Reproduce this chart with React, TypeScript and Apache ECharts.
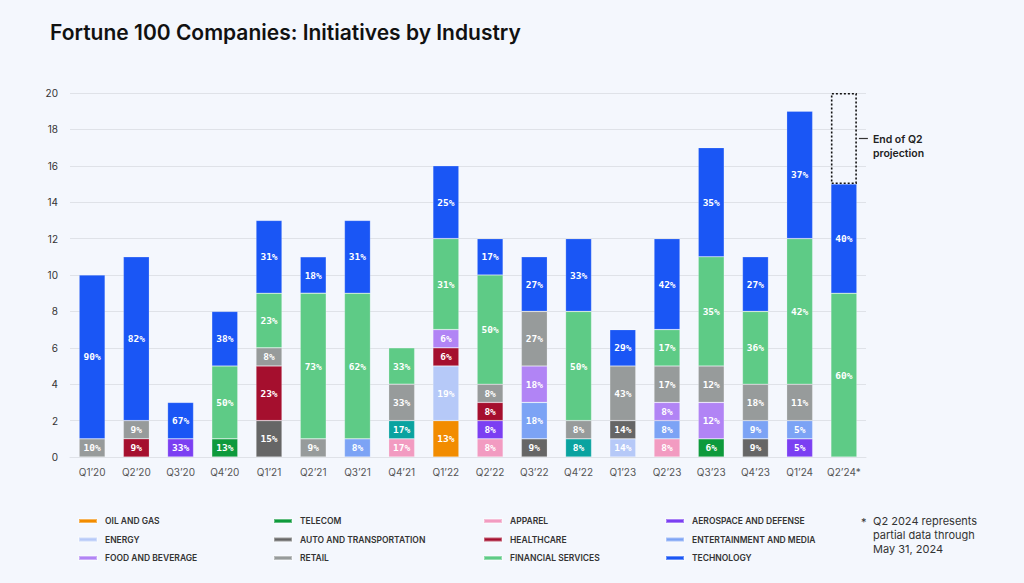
import React, { useEffect, useRef } from "react";
import * as echarts from "echarts";

const categories = ["Q1’20", "Q2’20", "Q3’20", "Q4’20", "Q1’21", "Q2’21", "Q3’21", "Q4’21", "Q1’22", "Q2’22", "Q3’22", "Q4’22", "Q1’23", "Q2’23", "Q3’23", "Q4’23", "Q1’24", "Q2’24*"];

const oilGas =        [0, 0, 0, 0, 0, 0, 0, 0, 2, 0, 0, 0, 0, 0, 0, 0, 0, 0];
const apparel =       [0, 0, 0, 0, 0, 0, 0, 1, 0, 1, 0, 0, 0, 1, 0, 0, 0, 0];
const other =         [0, 0, 0, 0, 0, 0, 0, 1, 0, 0, 0, 1, 0, 0, 0, 0, 0, 0];
const telecom =       [0, 0, 0, 1, 0, 0, 0, 0, 0, 0, 0, 0, 0, 0, 1, 0, 0, 0];
const energy =        [0, 0, 0, 0, 0, 0, 0, 0, 3, 0, 0, 0, 1, 0, 0, 0, 0, 0];
const auto =          [0, 0, 0, 0, 2, 0, 0, 0, 0, 0, 1, 0, 1, 0, 0, 1, 0, 0];
const aerospace =     [0, 0, 1, 0, 0, 0, 0, 0, 0, 1, 0, 0, 0, 0, 0, 0, 1, 0];
const healthcare =    [0, 1, 0, 0, 3, 0, 0, 0, 1, 1, 0, 0, 0, 0, 0, 0, 0, 0];
const entertainment = [0, 0, 0, 0, 0, 0, 1, 0, 0, 0, 2, 0, 0, 1, 0, 1, 1, 0];
const food =          [0, 0, 0, 0, 0, 0, 0, 0, 1, 0, 2, 0, 0, 1, 2, 0, 0, 0];
const retail =        [1, 1, 0, 0, 1, 1, 0, 2, 0, 1, 3, 1, 3, 2, 2, 2, 2, 0];
const financial =     [0, 0, 0, 4, 3, 8, 8, 2, 5, 6, 0, 6, 0, 2, 6, 4, 8, 9];
const technology =    [9, 9, 2, 3, 4, 2, 4, 0, 4, 2, 3, 4, 2, 5, 6, 3, 7, 6];
const projection =    [0, 0, 0, 0, 0, 0, 0, 0, 0, 0, 0, 0, 0, 0, 0, 0, 0, 5];

const yTicks = [0, 2, 4, 6, 8, 10, 12, 14, 16, 18, 20];

const seriesDefs = [
  { name: "OIL AND GAS", data: oilGas, color: "#f28c00" },
  { name: "APPAREL", data: apparel, color: "#f29bc1" },
  { name: "OTHER", data: other, color: "#0aa3a0" },
  { name: "TELECOM", data: telecom, color: "#0e9a3c" },
  { name: "ENERGY", data: energy, color: "#b6c9f8" },
  { name: "AUTO AND TRANSPORTATION", data: auto, color: "#666666" },
  { name: "AEROSPACE AND DEFENSE", data: aerospace, color: "#7b3ff2" },
  { name: "HEALTHCARE", data: healthcare, color: "#a50f2e" },
  { name: "ENTERTAINMENT AND MEDIA", data: entertainment, color: "#7ca3f5" },
  { name: "FOOD AND BEVERAGE", data: food, color: "#b184f5" },
  { name: "RETAIL", data: retail, color: "#979b9b" },
  { name: "FINANCIAL SERVICES", data: financial, color: "#5ecb86" },
  { name: "TECHNOLOGY", data: technology, color: "#1a56f5" },
];

const legendColumns = [
  ["OIL AND GAS", "ENERGY", "FOOD AND BEVERAGE"],
  ["TELECOM", "AUTO AND TRANSPORTATION", "RETAIL"],
  ["APPAREL", "HEALTHCARE", "FINANCIAL SERVICES"],
  ["AEROSPACE AND DEFENSE", "ENTERTAINMENT AND MEDIA", "TECHNOLOGY"],
];
const legendLefts = [78, 273, 483, 665];

const totals = categories.map((_, i) => seriesDefs.reduce((s, d) => s + d.data[i], 0));
const nz = (arr: number[]) => arr.map((v) => (v > 0 ? v : null));

export default function App() {
  const ref = useRef<HTMLDivElement>(null);
  useEffect(() => {
    if (!ref.current) return;
    const chart = echarts.init(ref.current, null, { renderer: "svg" });
    const font = "Inter, 'Noto Sans', sans-serif";
    const series: any[] = seriesDefs.map((d) => ({
      name: d.name,
      type: "bar",
      stack: "total",
      barWidth: 26,
      data: nz(d.data),
      itemStyle: { color: d.color, borderColor: "rgba(255,255,255,0.35)", borderWidth: 0.6 },
      label: {
        show: true,
        position: "inside",
        color: "#ffffff",
        fontSize: 9.5,
        fontWeight: 600,
        fontFamily: "'DejaVu Sans Mono', monospace",
        formatter: (p: any) => (p.value > 0 ? Math.round((p.value / totals[p.dataIndex]) * 100) + "%" : ""),
      },
      emphasis: { disabled: true },
    }));
    series.push({
      name: "projection",
      type: "bar",
      stack: "total",
      barWidth: 26,
      data: nz(projection),
      itemStyle: { color: "rgba(0,0,0,0)", borderColor: "#111", borderWidth: 1.6, borderType: [2, 2] },
      label: { show: false },
      emphasis: { disabled: true },
    });

    const legends = legendColumns.map((col, i) => ({
      data: col,
      orient: "vertical",
      left: legendLefts[i],
      top: 515,
      padding: 0,
      itemWidth: 18,
      itemHeight: 4,
      itemGap: 6.5,
      icon: "rect",
      selectedMode: false,
      textStyle: { fontSize: 8.5, fontWeight: 600, color: "#333", fontFamily: font, lineHeight: 12, padding: [0, 0, 0, 3] },
    }));

    chart.setOption({
      animation: false,
      backgroundColor: "#f4f7fd",
      title: {
        text: "Fortune 100 Companies: Initiatives by Industry",
        left: 45,
        top: 17,
        textStyle: { fontSize: 21, fontWeight: 600, color: "#111", fontFamily: font },
      },
      grid: { left: 70, right: 158, top: 93, bottom: 126 },
      legend: legends,
      xAxis: {
        type: "category",
        data: categories,
        axisLine: { show: true, lineStyle: { color: "#dfe2e8" } },
        axisTick: { show: false },
        axisLabel: { color: "#555", fontSize: 10, margin: 10, fontFamily: font },
      },
      yAxis: {
        type: "value",
        min: 0,
        max: 20,
        interval: 2,
        axisLine: { show: false },
        axisTick: { show: false },
        splitLine: { lineStyle: { color: "#dfe2e8", width: 1 } },
        axisLabel: { color: "#333", fontSize: 10, margin: 12, fontFamily: font, formatter: (v: number) => (yTicks.includes(v) ? String(v) : "") },
      },
      series,
    });

    const last = categories.length - 1;
    const p = chart.convertToPixel({ xAxisIndex: 0, yAxisIndex: 0 }, [last, 17.5]) as number[];
    const px = p[0] + 13;
    chart.setOption({
      graphic: [
        { type: "line", shape: { x1: px + 2, y1: p[1], x2: px + 11, y2: p[1] }, style: { stroke: "#333", lineWidth: 1.2 } },
        { type: "text", x: px + 16, y: p[1] - 6, style: { text: "End of Q2\nprojection", fontSize: 10.5, fontWeight: 600, fill: "#222", lineHeight: 14, fontFamily: font } },
        { type: "text", x: 861, y: 516, style: { text: "*", fontSize: 11, fill: "#333", fontFamily: font } },
        { type: "text", x: 873, y: 514, style: { text: "Q2 2024 represents\npartial data through\nMay 31, 2024", fontSize: 11, fill: "#333", lineHeight: 14, fontFamily: font } },
      ],
    });

    return () => chart.dispose();
  }, []);
  return <div ref={ref} style={{ position: "fixed", left: 0, top: 0, width: 1024, height: 583 }} />;
}
